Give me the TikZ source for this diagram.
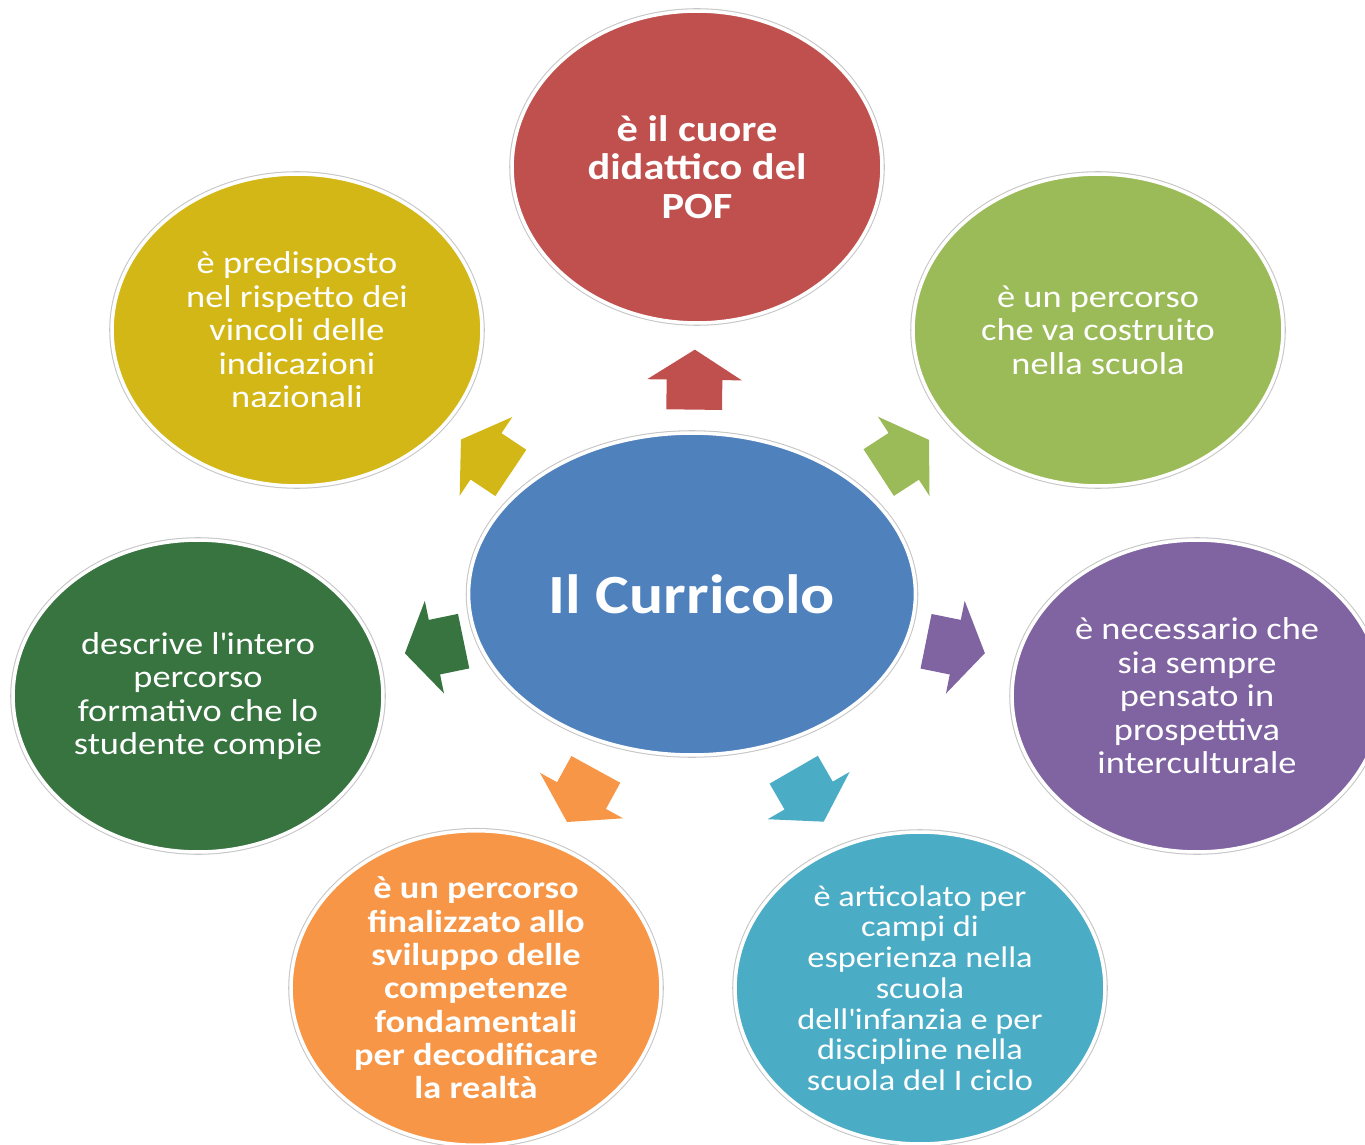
\documentclass[tikz,border=0pt]{standalone}
\usepackage{fontspec}
\setmainfont{Carlito}[FakeStretch=1.15]
\usetikzlibrary{shapes.geometric,shapes.arrows,calc}

\definecolor{cBlue}{HTML}{4F81BD}
\definecolor{cRed}{HTML}{C0504D}
\definecolor{cYellow}{HTML}{D3B717}
\definecolor{cOlive}{HTML}{9BBB59}
\definecolor{cDark}{HTML}{377440}
\definecolor{cPurple}{HTML}{8064A2}
\definecolor{cOrange}{HTML}{F79646}
\definecolor{cAqua}{HTML}{4BACC6}

\begin{document}
\begin{tikzpicture}[x=0.02cm,y=-0.02cm,
    bubble node/.style={ellipse,minimum width=7.4cm,minimum height=6.24cm,inner sep=0pt,
        draw=white,line width=2pt,text=white,align=center,
        preaction={draw=gray!45,line width=3.2pt},font=\fontsize{18}{19.1}\selectfont},
    arrow node/.style={single arrow,draw=none,minimum height=1.2cm,inner xsep=0pt,inner ysep=0.55cm,
        single arrow head extend=0.39cm,single arrow tip angle=115,rotate=#1,xshift=-0.16cm}]

    \useasboundingbox (0,0) rectangle (1365,1145);

    \node[bubble node,fill=cBlue,minimum width=8.94cm,minimum height=6.44cm,
        font=\bfseries\fontsize{31.5}{34}\selectfont] (cur) at (692,594) {Il Curricolo};

    \node[bubble node,fill=cRed,font=\bfseries\fontsize{21}{21.8}\selectfont] (cuore) at (697,167)
        {è il cuore\\didattico del\\POF};
    \node[bubble node,fill=cYellow] (vincoli) at (297,330)
        {è predisposto\\nel rispetto dei\\vincoli delle\\indicazioni\\nazionali};
    \node[bubble node,fill=cOlive] (percorso) at (1098,330)
        {è un percorso\\che va costruito\\nella scuola};
    \node[bubble node,fill=cDark] (descrive) at (198,696)
        {descrive l\textquotesingle intero\\percorso\\formativo che lo\\studente compie};
    \node[bubble node,fill=cPurple] (intercult) at (1197,696)
        {è necessario che\\sia sempre\\pensato in\\prospettiva\\interculturale};
    \node[bubble node,fill=cOrange,font=\bfseries\fontsize{18}{19}\selectfont] (competenze) at (476,988)
        {è un percorso\\finalizzato allo\\sviluppo delle\\competenze\\fondamentali\\per decodificare\\la realtà};
    \node[bubble node,fill=cAqua,font=\fontsize{17}{17.5}\selectfont] (articolato) at (920,988)
        {è articolato per\\campi di\\esperienza nella\\scuola\\dell\textquotesingle infanzia e per\\discipline nella\\scuola del I ciclo};

    \node[arrow node=89.3,fill=cRed] (a1) at ($(cur)!0.5!(cuore)$) {};
    \node[arrow node=146.2,fill=cYellow] (a2) at ($(cur)!0.52!(vincoli)$) {};
    \node[arrow node=33,fill=cOlive] (a3) at ($(cur)!0.52!(percorso)$) {};
    \node[arrow node=191.7,fill=cDark] (a4) at ($(cur)!0.52!(descrive)$) {};
    \node[arrow node=-11.4,fill=cPurple] (a5) at ($(cur)!0.52!(intercult)$) {};
    \node[arrow node=241.3,fill=cOrange] (a6) at ($(cur)!0.51!(competenze)$) {};
    \node[arrow node=300,fill=cAqua] (a7) at ($(cur)!0.51!(articolato)$) {};
\end{tikzpicture}
\end{document}
